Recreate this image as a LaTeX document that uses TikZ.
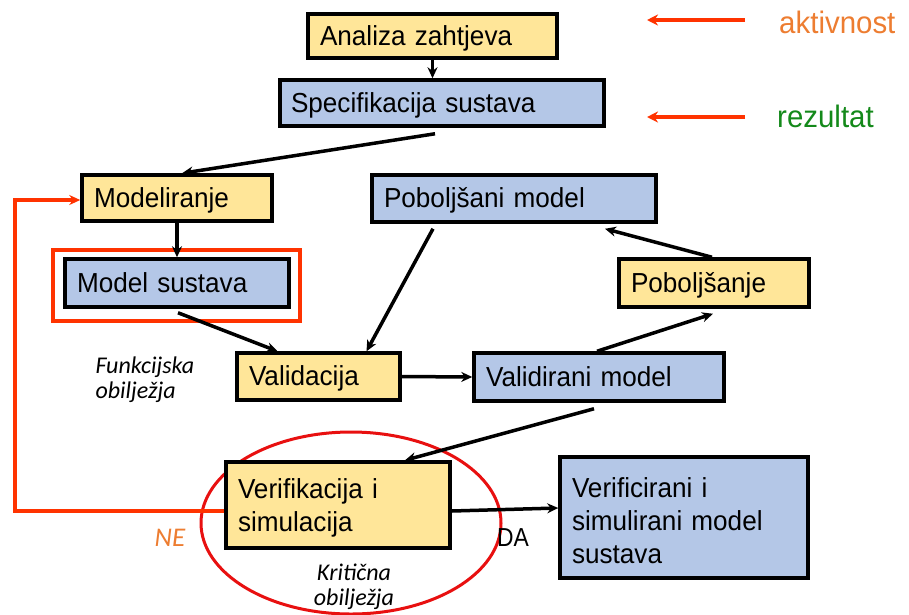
\documentclass[tikz,border=0pt]{standalone}
\usepackage{fontspec}
\setmainfont{Liberation Sans}[FakeStretch=0.95, WordSpace=0.8]
\newfontfamily\carl{Carlito}
\newfontfamily\lib{Liberation Sans}
\usetikzlibrary{arrows.meta,calc,shapes.geometric}
\definecolor{yel}{HTML}{FFE699}
\definecolor{blu}{HTML}{B4C7E7}
\definecolor{redor}{HTML}{FF3300}
\definecolor{ellred}{HTML}{E81010}
\definecolor{orn}{HTML}{ED7D31}
\definecolor{grn}{HTML}{14891A}
\tikzset{
  box/.style={draw=black, line width=3.5pt, inner xsep=12pt, inner ysep=0pt, align=left,
    font=\fontsize{27.5}{33}\selectfont},
  one/.style={text height=23pt, text depth=5pt},
  ybox/.style={box, fill=yel},
  bbox/.style={box, fill=blu},
  arr/.style={line width=3.5pt, -{Stealth[length=11pt,width=10pt]}},
  fb/.style={draw=redor, line width=4pt, -{Stealth[length=11pt,width=10pt]}},
  legarr/.style={draw=redor, line width=3.5pt, -{Stealth[length=11pt,width=11pt]}},
  note/.style={font=\carl\itshape\fontsize{24}{25}\selectfont, align=left},
}
\begin{document}
\begin{tikzpicture}[x=1pt,y=-1pt]
\useasboundingbox (0,0) rectangle (909,614);
% critical ellipse (behind)
\node[draw=ellred, line width=3pt, ellipse, minimum width=300pt, minimum height=182pt] (ell) at (351,523) {};
% boxes
\node[ybox, one, minimum width=249pt, minimum height=44pt, text width=225pt] (ana) at (432.5,36) {Analiza zahtjeva};
\node[bbox, one, minimum width=324pt, minimum height=46pt, text width=302pt, inner xsep=10pt] (spec) at (442,103) {Specifikacija sustava};
\node[ybox, one, minimum width=190pt, minimum height=46pt, text width=166pt] (mod) at (177,198) {Modeliranje};
\node[bbox, one, minimum width=224pt, minimum height=48pt, text width=200pt] (ms) at (177,283) {Model sustava};
\node[bbox, one, minimum width=284pt, minimum height=47pt, text width=260pt] (pm) at (514,198.5) {Poboljšani model};
\node[ybox, one, minimum width=190pt, minimum height=48pt, text width=166pt] (pob) at (714,283) {Poboljšanje};
\node[ybox, one, minimum width=163pt, minimum height=47pt, text width=139pt] (val) at (318.5,376.5) {Validacija};
\node[bbox, one, minimum width=250pt, minimum height=48pt, text width=226pt] (vm) at (599,377) {Validirani model};
\node[ybox, minimum width=224pt, minimum height=86pt, text width=200pt] (ver) at (338,505) {\rule{0pt}{26pt}Verifikacija i\\simulacija};
\node[bbox, minimum width=248pt, minimum height=121pt, text width=224pt] (vs) at (684,517.5) {\rule{0pt}{26pt}Verificirani i\\simulirani model\\sustava};
% red frame around model sustava
\draw[draw=redor, line width=4pt] ($(ms.south west)+(-10,12)$) rectangle ($(ms.north east)+(9,-7)$);
% arrows
\draw[arr] (ana.south) -- (ana.south |- spec.north);
\draw[arr] ($(spec.south)+(-7,6)$) -- ($(mod.north)+(5,0)$);
\draw[arr] (mod.south) -- (ms.north);
\draw[arr] ($(ms.south)+(1,4)$) -- ($(val.north)+(-41,0)$);
\draw[arr] ($(pm.south)+(-81,5)$) -- ($(val.north)+(48,0)$);
\draw[arr] ($(pob.north)+(-2,0)$) -- ($(pm.south)+(91,5)$);
\draw[arr] (val.east) -- (vm.west);
\draw[arr] ($(vm.north)+(-2,0)$) -- ($(pob.south)+(-1,5)$);
\draw[arr] ($(vm.south)+(-5,6)$) -- ($(ver.north)+(67,0)$);
\draw[arr] ($(ver.east)+(0,6)$) -- ($(vs.west)+(0,-9.5)$);
% feedback NE
\coordinate (nl) at (15,511);
\coordinate (nu) at (15,200);
\draw[fb] ($(ver.west)+(0,6)$) -- (nl) -- (nu) -- (nu -| mod.west);
% labels
\node[note, anchor=west] (fo) at (92,380) {Funkcijska\\obilježja};
\node[note, align=center] (ko) at (354,587) {Kritična\\obilježja};
\node[font=\carl\itshape\fontsize{27}{30}\selectfont, text=orn] (ne) at (170,538) {NE};
\node[font=\lib\fontsize{26}{30}\selectfont, xscale=0.88] (da) at (513,538) {DA};
% legend
\node[font=\fontsize{31}{34}\selectfont, text=orn, anchor=west, inner sep=0pt] (akt) at (779,22) {aktivnost};
\node[font=\fontsize{31}{34}\selectfont, text=grn, anchor=west, inner sep=0pt] (rez) at (777,116) {rezultat};
\coordinate (a1s) at (745,20);
\coordinate (a1e) at (647,20);
\coordinate (a2s) at (745,117);
\coordinate (a2e) at (647,117);
\draw[legarr] (a1s) -- (a1e);
\draw[legarr] (a2s) -- (a2e);
\end{tikzpicture}
\end{document}
